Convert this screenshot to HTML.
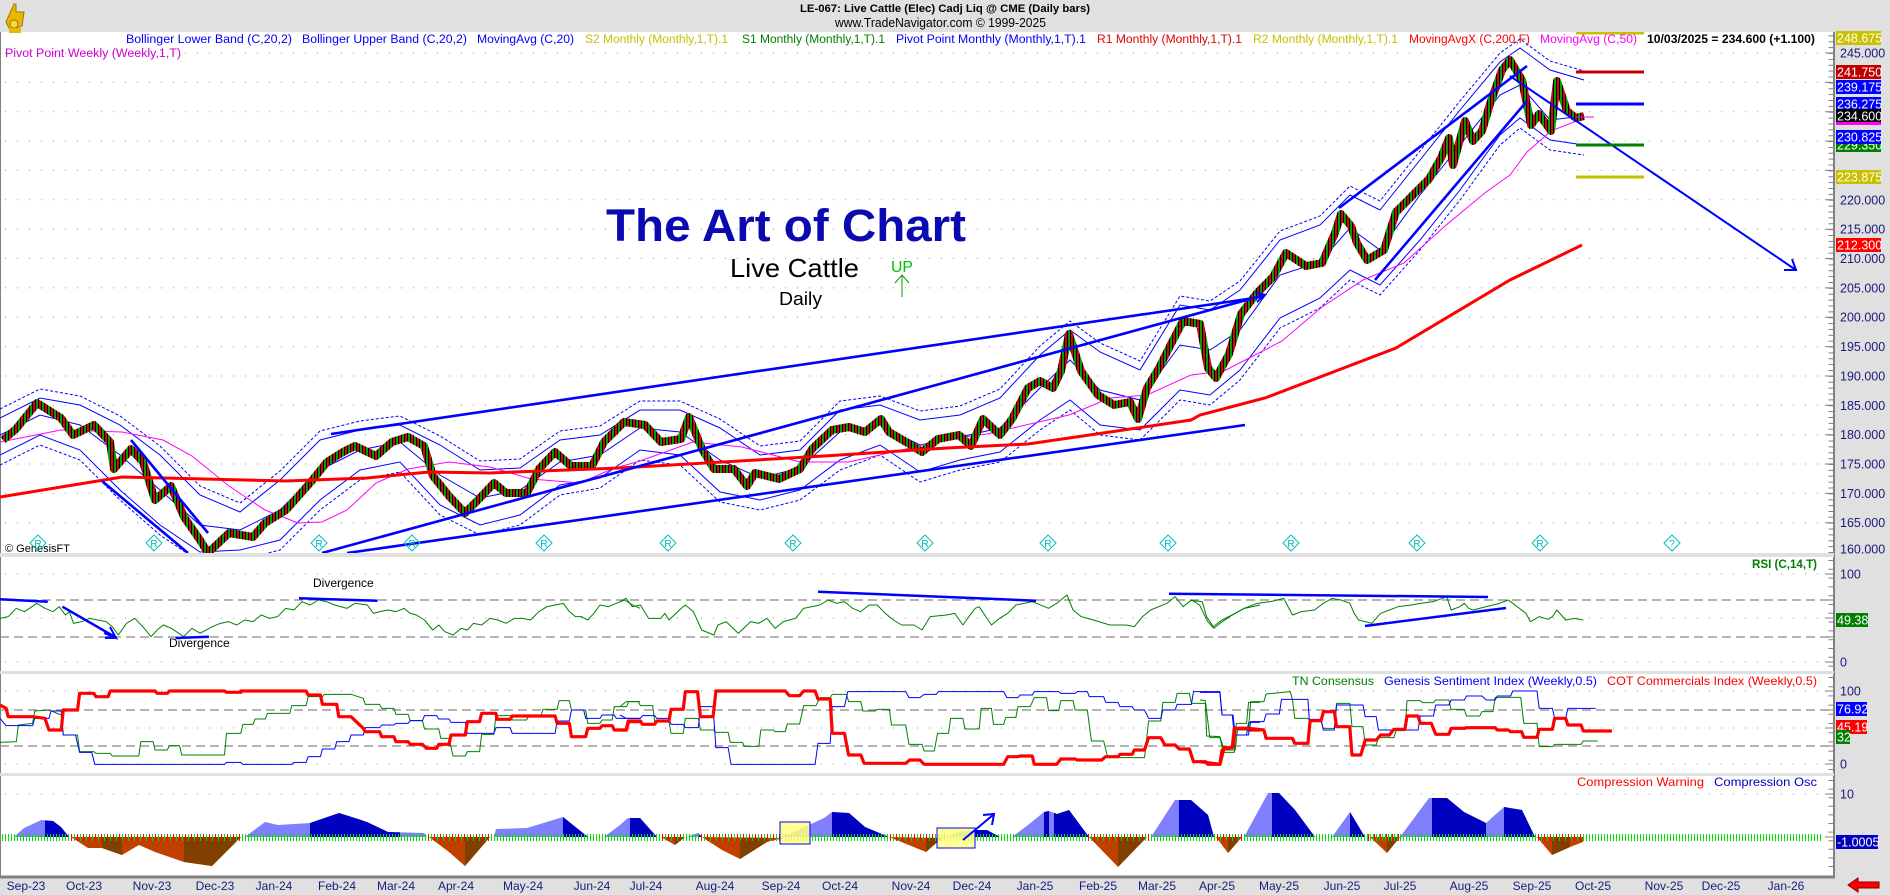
<!DOCTYPE html>
<html><head><meta charset="utf-8">
<style>
html,body{margin:0;padding:0;background:#e0e0e0;}
svg{display:block;font-family:"Liberation Sans",Arial,sans-serif;}
.ns{vector-effect:non-scaling-stroke;fill:none;stroke-linejoin:round;}
</style></head>
<body>
<svg width="1890" height="895" viewBox="0 0 1890 895" xmlns="http://www.w3.org/2000/svg">
<defs>
<pattern id="cdl" x="0" y="0" width="6" height="20" patternUnits="userSpaceOnUse">
<rect x="0" y="0" width="2" height="20" fill="#00a000"/>
<rect x="2" y="0" width="1" height="20" fill="#000"/>
<rect x="3" y="0" width="2" height="20" fill="#e00000"/>
<rect x="5" y="0" width="1" height="20" fill="#000"/>
</pattern>
<clipPath id="mainclip"><rect x="0" y="32" width="1834" height="521"/></clipPath>
<clipPath id="darkPos">
<rect x="45" y="780" width="24" height="100"/><rect x="310" y="780" width="90" height="100"/><rect x="563" y="780" width="25" height="100"/><rect x="630" y="780" width="27" height="100"/><rect x="698" y="780" width="4" height="100"/><rect x="832" y="780" width="57" height="100"/><rect x="975" y="780" width="25" height="100"/><rect x="1044" y="780" width="5" height="100"/><rect x="1054" y="780" width="35" height="100"/><rect x="1179" y="780" width="35" height="100"/><rect x="1272" y="780" width="43" height="100"/><rect x="1350" y="780" width="15" height="100"/><rect x="1432" y="780" width="54" height="100"/><rect x="1504" y="780" width="31" height="100"/>
</clipPath>
<clipPath id="darkNeg">
<rect x="102" y="780" width="20" height="100"/><rect x="184" y="780" width="57" height="100"/><rect x="465" y="780" width="25" height="100"/><rect x="675" y="780" width="10" height="100"/><rect x="740" y="780" width="27" height="100"/><rect x="926" y="780" width="16" height="100"/><rect x="1118" y="780" width="29" height="100"/><rect x="1228" y="780" width="14" height="100"/><rect x="1387" y="780" width="13" height="100"/><rect x="1552" y="780" width="18" height="100"/>
</clipPath>
</defs>
<rect x="0" y="0" width="1890" height="895" fill="#e0e0e0"/>
<rect x="0" y="32" width="1834" height="521" fill="#fff"/>
<rect x="0" y="557" width="1834" height="115" fill="#fff"/>
<rect x="0" y="674" width="1834" height="99" fill="#fff"/>
<rect x="0" y="776" width="1834" height="100" fill="#fff"/>
<line x1="0.5" y1="32" x2="0.5" y2="876" stroke="#808080" stroke-width="1"/>

<!-- grid -->
<path d="M5 53H1834M5 82.4H1834M5 111.7H1834M5 141.1H1834M5 170.4H1834M5 199.8H1834M5 229.2H1834M5 258.5H1834M5 287.9H1834M5 317.2H1834M5 346.6H1834M5 376H1834M5 405.3H1834M5 434.7H1834M5 464H1834M5 493.4H1834M5 522.8H1834M5 574H1834M5 618H1834M5 662H1834M5 691H1834M5 728H1834M5 764H1834M5 794H1834" stroke="#909090" stroke-width="1" stroke-dasharray="1,11" fill="none"/>
<path d="M0 600H1834M0 637H1834M0 710H1834M0 746H1834" stroke="#888" stroke-width="1.3" stroke-dasharray="9,5" fill="none"/>

<!-- main panel -->
<g clip-path="url(#mainclip)">
<g transform="translate(0,-9)"><polyline fill="none" stroke="#0000ff" stroke-width="1" stroke-dasharray="3,2" points="0,418 40,398 80,405 120,425 160,455 200,495 240,512 280,480 320,440 360,430 400,425 440,445 480,470 520,468 560,440 600,435 640,410 680,410 720,428 760,455 800,450 840,410 880,405 920,420 960,415 1000,398 1040,355 1070,330 1100,352 1140,370 1180,305 1210,310 1240,290 1280,240 1320,225 1350,195 1380,210 1420,160 1460,110 1500,62 1520,48 1550,70 1584,80"/></g>
<g transform="translate(0,10)"><polyline fill="none" stroke="#0000ff" stroke-width="1" stroke-dasharray="3,2" points="0,455 40,435 80,450 120,490 160,525 200,552 240,550 280,540 320,500 360,470 400,462 440,505 480,525 520,515 560,485 600,478 640,450 680,455 720,492 760,500 800,490 840,460 880,445 920,472 960,460 1000,452 1040,420 1070,400 1100,425 1140,430 1180,390 1210,395 1240,370 1280,318 1320,298 1350,270 1380,285 1420,240 1460,190 1500,135 1520,118 1550,140 1584,145"/></g>
<polyline fill="none" stroke="#0000ff" stroke-width="1" points="0,418 40,398 80,405 120,425 160,455 200,495 240,512 280,480 320,440 360,430 400,425 440,445 480,470 520,468 560,440 600,435 640,410 680,410 720,428 760,455 800,450 840,410 880,405 920,420 960,415 1000,398 1040,355 1070,330 1100,352 1140,370 1180,305 1210,310 1240,290 1280,240 1320,225 1350,195 1380,210 1420,160 1460,110 1500,62 1520,48 1550,70 1584,80"/>
<polyline fill="none" stroke="#0000ff" stroke-width="1" points="0,455 40,435 80,450 120,490 160,525 200,552 240,550 280,540 320,500 360,470 400,462 440,505 480,525 520,515 560,485 600,478 640,450 680,455 720,492 760,500 800,490 840,460 880,445 920,472 960,460 1000,452 1040,420 1070,400 1100,425 1140,430 1180,390 1210,395 1240,370 1280,318 1320,298 1350,270 1380,285 1420,240 1460,190 1500,135 1520,118 1550,140 1584,145"/>
<polyline fill="none" stroke="#0000ff" stroke-width="1" points="0,435 40,415 80,425 120,455 160,490 200,525 240,530 280,510 320,470 360,450 400,442 440,475 480,498 520,490 560,462 600,455 640,428 680,432 720,460 760,478 800,468 840,432 880,425 920,445 960,437 1000,428 1040,388 1070,360 1100,390 1140,400 1180,345 1210,350 1240,330 1280,275 1320,262 1350,228 1380,250 1420,195 1460,145 1500,95 1520,85 1550,120 1584,116"/>
<polyline fill="none" stroke="#ff00ff" stroke-width="1" points="0,442 61,430 122,432 163,440 192,456 229,486 265,510 298,523 322,522 347,510 376,483 408,469 449,462 490,467 531,479 580,483 612,469 640,461 693,442 742,447 800,462 849,462 906,449 947,439 987,434 1069,415 1110,398 1147,395 1191,375 1224,371 1282,341 1322,307 1363,280 1404,263 1445,226 1486,192 1510,175 1527,152 1551,131 1584,118"/>
<polyline fill="none" stroke="url(#cdl)" stroke-width="8" stroke-linejoin="round" points="3,440 16,429 37,403 61,418 73,435 94,425 110,442 114,469 131,449 143,462 155,500 171,486 184,517 200,540 208,553 229,533 253,537 265,523 286,510 310,483 327,462 343,452 355,446 376,456 392,442 408,437 424,446 433,476 449,496 465,513 478,500 494,483 506,493 527,493 539,469 555,452 571,466 592,466 604,442 624,422 645,425 661,442 681,439 689,417 702,449 714,469 734,469 747,486 755,473 779,479 800,469 812,449 832,430 849,427 865,432 881,419 889,432 906,442 922,452 938,439 959,435 971,446 983,419 1000,435 1012,419 1028,388 1040,381 1053,388 1061,371 1069,334 1081,371 1098,395 1114,405 1130,402 1138,419 1147,388 1159,368 1171,344 1183,321 1200,324 1208,368 1216,378 1229,354 1241,314 1257,293 1273,277 1286,253 1306,266 1322,263 1335,233 1341,214 1351,226 1357,243 1367,260 1384,250 1396,212 1412,196 1429,179 1441,158 1449,138 1453,165 1465,121 1473,141 1482,131 1490,104 1502,70 1510,60 1522,80 1531,125 1539,114 1551,131 1557,81 1567,111 1576,118 1584,116"/>
<polyline fill="none" stroke="#ff0000" stroke-width="3" points="0,497 122,477 204,479 286,481 367,478 429,472 490,473 620,468 824,456 947,448 1028,444 1110,432 1191,420 1200,415 1265,398 1396,348 1510,280 1582,245"/>
<line x1="1576" y1="117" x2="1594" y2="117" stroke="#ff00ff" stroke-width="1"/>
<g stroke="#0000ff" stroke-width="2.6">
<line x1="102" y1="481" x2="188" y2="553"/>
<line x1="131" y1="440" x2="208" y2="533"/>
<line x1="331" y1="434" x2="1261" y2="297"/>
<line x1="322" y1="553" x2="1265" y2="295"/>
<line x1="347" y1="553" x2="1245" y2="425"/>
<line x1="1339" y1="208" x2="1527" y2="66"/>
<line x1="1375" y1="280" x2="1527" y2="101"/>
</g>
<path d="M1255 292 L1265 295 L1257 302" stroke="#0000ff" stroke-width="2" fill="none"/>
<line x1="1510" y1="76" x2="1796" y2="270" stroke="#0000ff" stroke-width="2"/>
<path d="M1784 270 L1796 270 L1792 259" stroke="#0000ff" stroke-width="2" fill="none"/>
<line x1="1576" y1="72" x2="1644" y2="72" stroke="#c00000" stroke-width="3"/>
<line x1="1576" y1="104" x2="1644" y2="104" stroke="#0000ff" stroke-width="3"/>
<line x1="1576" y1="145" x2="1644" y2="145" stroke="#008000" stroke-width="3"/>
<line x1="1576" y1="177" x2="1644" y2="177" stroke="#c0c000" stroke-width="3"/>
<line x1="1576" y1="33" x2="1644" y2="33" stroke="#c8c000" stroke-width="3"/>
</g>

<!-- RSI -->
<g transform="translate(0,555) scale(0.40816,0.33333)"><polyline class="ns" stroke="#008000" stroke-width="1" points="0,190 20,185 40,160 60,170 90,145 110,160 130,170 145,155 160,180 170,170 180,205 200,200 220,190 240,195 260,200 275,215 290,240 310,205 330,190 350,215 370,245 385,225 400,210 420,220 450,245 470,220 490,235 520,215 540,205 560,200 580,210 600,195 620,200 640,180 660,190 680,185 700,160 720,165 740,140 760,150 780,135 800,140 820,150 850,160 870,145 900,150 915,175 930,170 950,165 970,170 990,160 1005,175 1020,180 1040,195 1060,225 1075,210 1090,230 1110,240 1130,220 1145,225 1160,205 1180,210 1200,190 1220,195 1240,205 1260,190 1280,190 1300,195 1320,170 1340,155 1360,150 1380,145 1395,170 1410,185 1425,185 1440,195 1455,175 1470,150 1490,155 1510,145 1530,135 1550,150 1568,160"/></g>
<g transform="translate(620,555) scale(0.40816,0.33333)"><polyline class="ns" stroke="#008000" stroke-width="1" points="0,140 15,130 30,155 50,150 70,190 100,190 110,175 120,195 150,160 160,150 180,170 200,225 230,240 240,210 260,200 290,235 320,200 340,205 360,190 380,220 400,200 430,190 450,160 490,150 510,135 530,145 550,140 570,160 590,170 610,150 630,150 650,175 670,195 690,210 720,210 740,225 760,185 800,180 820,175 840,210 870,160 880,155 910,210 930,190 950,175 970,150 990,145 1010,140 1050,160 1070,145 1095,120 1110,165 1130,185 1160,195 1200,210 1240,210 1260,215 1280,185 1300,165 1340,145 1360,125 1380,155 1400,135 1420,150 1440,200 1455,220 1470,205 1500,180 1530,160 1568,150"/></g>
<g transform="translate(1200,460) scale(0.44053,0.33333)"><polyline class="ns" stroke="#008000" stroke-width="1" points="-20,422 5,425 15,470 30,500 50,480 80,460 100,445 130,430 160,425 190,415 210,465 230,455 260,450 280,430 300,415 320,420 340,430 350,460 360,480 375,485 390,490 410,460 430,450 450,440 480,435 500,430 530,425 560,410 570,450 590,440 600,430 610,445 620,450 650,440 680,430 700,420 720,440 740,460 750,485 770,470 790,478 800,470 810,450 820,465 830,480 850,475 870,480"/></g>
<g stroke="#0000ff" stroke-width="2.5">
<line x1="0" y1="599.3" x2="47.8" y2="601.7"/>
<line x1="62.4" y1="606.7" x2="116.3" y2="637.7"/>
<line x1="105" y1="637.7" x2="116.3" y2="637.7"/>
<line x1="175.5" y1="638" x2="209" y2="636.7"/>
<line x1="299" y1="598.3" x2="377.5" y2="600.7"/>
<line x1="818" y1="591.7" x2="1036" y2="600.7"/>
<line x1="1169" y1="593.7" x2="1488" y2="597"/>
<line x1="1365" y1="626" x2="1506" y2="608"/>
</g>
<path d="M104 633 L116 638 L110 627" stroke="#0000ff" stroke-width="2" fill="none"/>
<text x="313" y="587" font-size="12" fill="#000">Divergence</text>
<text x="169" y="647" font-size="12" fill="#000">Divergence</text>

<!-- Sentiment -->
<g transform="translate(0,555) scale(0.40816,0.33333)">
<polyline class="ns" stroke="#008000" stroke-width="1" points="0,562 40,560 45,510 80,505 85,468 120,465 150,480 155,540 190,540 195,590 230,590 235,595 270,595 275,603 340,603 345,560 375,560 380,585 410,585 415,572 440,572 445,600 550,600 555,535 590,535 595,508 620,508 625,492 650,492 655,475 710,475 715,452 750,452 755,425 790,425 795,418 860,418 890,430 895,448 930,448 935,460 965,460 970,478 1000,478 1005,497 1035,497 1040,522 1075,522 1080,550 1100,550 1110,603 1140,603 1145,590 1175,590 1180,538 1210,538 1215,482 1250,482 1255,495 1290,495 1295,485 1325,485 1330,463 1365,463 1370,437 1395,437 1400,465 1435,465 1440,505 1470,505 1475,495 1500,495 1505,455 1535,455 1540,440 1568,440"/>
<polyline class="ns" stroke="#0000ff" stroke-width="1" points="0,490 15,512 80,512 85,490 120,490 125,468 150,468 155,540 185,540 195,592 225,592 232,628 550,628 555,622 590,622 595,628 715,628 720,622 750,622 755,605 785,605 790,582 820,582 825,560 855,560 860,540 890,540 895,518 930,518 935,510 965,510 970,505 1000,505 1005,497 1035,497 1040,482 1070,482 1075,492 1100,492 1105,502 1140,502 1145,535 1210,535 1215,518 1250,518 1255,535 1360,535 1365,498 1395,498 1400,465 1430,465 1435,490 1470,490 1475,480 1505,480 1510,490 1568,490"/>
<polyline class="ns" stroke="#ff0000" stroke-width="3.2" points="0,450 15,460 20,485 80,485 110,490 120,525 150,525 155,465 190,465 195,415 230,415 235,425 265,425 270,408 380,408 385,415 410,415 415,408 550,408 555,412 590,412 590,408 750,408 755,420 785,420 790,448 825,448 830,485 860,485 890,520 895,530 930,530 935,545 965,545 970,560 1000,560 1005,568 1035,568 1045,580 1070,580 1075,568 1100,568 1105,540 1140,540 1145,500 1175,500 1180,475 1215,475 1218,493 1250,493 1255,483 1360,483 1365,505 1395,505 1400,545 1435,545 1440,520 1470,520 1475,512 1500,512 1505,525 1535,525 1540,500 1568,500"/>
</g>
<g transform="translate(620,555) scale(0.40816,0.33333)">
<polyline class="ns" stroke="#008000" stroke-width="1" points="0,455 15,440 45,440 50,452 80,452 85,500 120,500 125,535 155,535 160,490 192,490 197,525 230,525 235,532 265,532 270,562 300,562 305,574 340,574 345,525 375,525 380,530 405,530 410,507 440,507 450,452 480,452 490,428 515,428 520,418 555,418 560,440 590,440 595,468 625,468 630,463 660,463 665,510 700,510 708,568 740,568 745,588 770,588 778,535 805,535 810,490 840,490 845,522 880,522 885,460 910,460 915,508 940,508 945,487 970,487 975,455 1005,455 1015,428 1045,428 1050,467 1075,467 1080,437 1110,437 1115,465 1145,465 1155,558 1185,558 1195,608 1285,608 1290,555 1295,498 1325,498 1330,442 1360,442 1365,415 1395,415 1400,445 1435,445 1445,548 1470,548 1478,592 1505,592 1510,505 1535,505 1540,442 1568,442"/>
<polyline class="ns" stroke="#0000ff" stroke-width="1" points="0,480 15,490 50,490 55,482 85,482 90,490 120,490 125,508 155,508 160,518 192,518 197,455 228,455 235,578 265,578 272,628 478,628 485,565 515,565 520,455 550,455 558,410 700,410 708,428 735,428 745,418 775,418 780,410 940,410 948,428 975,428 980,420 1010,420 1015,410 1075,410 1080,415 1115,415 1120,410 1145,410 1150,425 1185,425 1190,442 1220,442 1225,455 1255,455 1260,465 1285,465 1295,490 1325,490 1330,465 1360,465 1365,448 1400,448 1405,410 1470,410 1475,480 1500,480 1505,540 1535,540 1540,502 1568,502"/>
<polyline class="ns" stroke="#ff0000" stroke-width="3.2" points="0,525 15,525 20,498 50,498 55,508 85,508 90,498 120,498 125,463 155,463 160,410 190,410 197,485 228,485 235,408 405,408 415,422 440,422 450,408 478,408 485,432 515,432 520,535 550,535 560,600 590,600 598,625 700,625 710,615 735,615 745,628 940,628 950,605 975,605 980,603 1010,603 1015,628 1070,628 1080,612 1115,612 1120,615 1180,615 1190,605 1220,605 1225,598 1255,598 1260,585 1285,585 1295,548 1325,548 1335,570 1360,570 1370,582 1395,582 1405,620 1435,620 1440,628 1470,628 1480,578 1500,578 1505,520 1535,520 1540,525 1568,525"/>
</g>
<g transform="translate(1200,460) scale(0.44053,0.33333)">
<polyline class="ns" stroke="#008000" stroke-width="1" points="0,720 12,722 15,828 45,830 55,870 80,870 85,810 110,810 115,725 145,725 150,702 205,695 210,720 215,775 245,775 250,785 275,785 280,805 305,805 310,730 340,730 345,800 370,800 375,855 400,855 405,833 440,833 445,812 465,812 470,722 500,722 505,728 530,728 535,720 565,720 570,748 600,748 605,768 635,768 640,755 665,755 670,712 728,712 735,790 765,790 770,860 800,860 805,853 865,853 870,843 903,843"/>
<polyline class="ns" stroke="#0000ff" stroke-width="1" points="0,697 45,697 50,765 75,765 80,825 110,825 115,785 145,785 150,762 180,762 185,718 245,718 248,778 275,778 280,810 305,810 310,735 370,735 375,770 400,770 405,810 495,810 500,768 530,768 535,735 565,735 570,720 600,720 605,708 640,708 650,720 670,720 675,708 705,708 710,693 765,693 770,745 800,745 805,775 830,775 835,745 898,745"/>
<polyline class="ns" stroke="#ff0000" stroke-width="3.2" points="0,905 45,913 50,870 75,860 80,805 110,805 145,810 150,835 210,835 215,850 245,850 250,782 275,782 280,755 305,755 310,800 340,800 345,885 365,885 375,840 400,840 410,825 430,825 440,808 465,808 470,768 495,768 500,790 525,790 535,823 565,823 570,805 600,805 605,803 670,803 675,810 700,810 705,815 730,815 735,832 765,832 770,808 800,808 805,775 830,775 835,795 865,795 870,813 935,813"/>
</g>

<!-- Compression -->
<g fill="#8080ff">
<polygon points="14,837 24,828 37,822 41,820 53,821 61,827 69,837"/>
<polygon points="245,837 265,822 278,825 310,823 339,813 355,818 367,822 388,832 424,833 427,837"/>
<polygon points="494,837 496,829 527,828 563,817 588,837"/>
<polygon points="604,837 620,825 628,818 640,818 657,837"/>
<polygon points="687,837 698,833 702,837"/>
<polygon points="783,837 824,818 832,812 849,813 865,827 889,837"/>
<polygon points="947,837 959,832 975,830 987,830 1000,837"/>
<polygon points="1012,837 1028,825 1044,812 1049,811 1057,814 1069,810 1089,837"/>
<polygon points="1151,837 1175,800 1191,800 1208,815 1214,837"/>
<polygon points="1244,837 1268,793 1279,793 1295,810 1315,837"/>
<polygon points="1332,837 1350,812 1365,837"/>
<polygon points="1400,837 1429,798 1447,798 1464,812 1486,823 1504,807 1522,810 1535,837"/>
</g>
<g fill="#0000c0" clip-path="url(#darkPos)">
<polygon points="14,837 24,828 37,822 41,820 53,821 61,827 69,837"/>
<polygon points="245,837 265,822 278,825 310,823 339,813 355,818 367,822 388,832 424,833 427,837"/>
<polygon points="494,837 496,829 527,828 563,817 588,837"/>
<polygon points="604,837 620,825 628,818 640,818 657,837"/>
<polygon points="687,837 698,833 702,837"/>
<polygon points="783,837 824,818 832,812 849,813 865,827 889,837"/>
<polygon points="947,837 959,832 975,830 987,830 1000,837"/>
<polygon points="1012,837 1028,825 1044,812 1049,811 1057,814 1069,810 1089,837"/>
<polygon points="1151,837 1175,800 1191,800 1208,815 1214,837"/>
<polygon points="1244,837 1268,793 1279,793 1295,810 1315,837"/>
<polygon points="1332,837 1350,812 1365,837"/>
<polygon points="1400,837 1429,798 1447,798 1464,812 1486,823 1504,807 1522,810 1535,837"/>
</g>
<g fill="#c04000">
<polygon points="71,837 88,848 102,848 122,855 139,845 155,852 184,862 212,866 241,837"/>
<polygon points="429,837 449,852 465,866 490,837"/>
<polygon points="661,837 675,845 685,837"/>
<polygon points="702,837 722,850 740,859 767,842 783,838"/>
<polygon points="889,837 926,852 942,838"/>
<polygon points="1089,837 1118,867 1147,837"/>
<polygon points="1216,837 1228,853 1242,837"/>
<polygon points="1370,837 1387,853 1400,837"/>
<polygon points="1537,837 1552,855 1570,847 1583,842 1584,837"/>
</g>
<g fill="#804000" clip-path="url(#darkNeg)">
<polygon points="71,837 88,848 102,848 122,855 139,845 155,852 184,862 212,866 241,837"/>
<polygon points="429,837 449,852 465,866 490,837"/>
<polygon points="661,837 675,845 685,837"/>
<polygon points="702,837 722,850 740,859 767,842 783,838"/>
<polygon points="889,837 926,852 942,838"/>
<polygon points="1089,837 1118,867 1147,837"/>
<polygon points="1216,837 1228,853 1242,837"/>
<polygon points="1370,837 1387,853 1400,837"/>
<polygon points="1537,837 1552,855 1570,847 1583,842 1584,837"/>
</g>
<line x1="2" y1="837.5" x2="1822" y2="837.5" stroke="#00e000" stroke-width="7" stroke-dasharray="1,2"/>
<g stroke="#ff0000" stroke-width="7" stroke-dasharray="1,5">
<line x1="71" y1="837.5" x2="241" y2="837.5"/>
<line x1="428" y1="837.5" x2="490" y2="837.5"/>
<line x1="662" y1="837.5" x2="686" y2="837.5"/>
<line x1="701" y1="837.5" x2="800" y2="837.5"/>
<line x1="890" y1="837.5" x2="945" y2="837.5"/>
<line x1="1088" y1="837.5" x2="1150" y2="837.5"/>
<line x1="1217" y1="837.5" x2="1244" y2="837.5"/>
<line x1="1368" y1="837.5" x2="1400" y2="837.5"/>
<line x1="1538" y1="837.5" x2="1584" y2="837.5"/>
</g>
<rect x="780" y="822" width="30" height="22" fill="#ffff80" fill-opacity="0.85" stroke="#0000ff" stroke-width="1"/>
<rect x="937" y="828" width="38" height="20" fill="#ffff80" fill-opacity="0.85" stroke="#0000ff" stroke-width="1"/>
<line x1="963" y1="840" x2="993" y2="815" stroke="#0000ff" stroke-width="2"/>
<path d="M983 815 L994 814 L992 825" stroke="#0000ff" stroke-width="2" fill="none"/>

<!-- axis -->
<line x1="1834" y1="32" x2="1834" y2="877" stroke="#808080" stroke-width="2"/>
<line x1="0" y1="877" x2="1835" y2="877" stroke="#808080" stroke-width="3"/>
<line x1="1831" y1="35.39" x2="1831" y2="553" stroke="#808080" stroke-width="5" stroke-dasharray="1,4.871"/>
<path d="M1825 53H1834M1825 82.4H1834M1825 111.7H1834M1825 141.1H1834M1825 170.4H1834M1825 199.8H1834M1825 229.2H1834M1825 258.5H1834M1825 287.9H1834M1825 317.2H1834M1825 346.6H1834M1825 376H1834M1825 405.3H1834M1825 434.7H1834M1825 464H1834M1825 493.4H1834M1825 522.8H1834M1825 574H1834M1825 600H1834M1825 618H1834M1825 637H1834M1825 662H1834M1825 691H1834M1825 710H1834M1825 728H1834M1825 746H1834M1825 764H1834M1825 794H1834M1825 837H1834" stroke="#808080" stroke-width="1"/>
<line x1="1831" y1="560" x2="1831" y2="670" stroke="#808080" stroke-width="5" stroke-dasharray="1,7.8"/>
<line x1="1831" y1="677" x2="1831" y2="771" stroke="#808080" stroke-width="5" stroke-dasharray="1,8.2"/>
<line x1="1831" y1="780" x2="1831" y2="874" stroke="#808080" stroke-width="5" stroke-dasharray="1,7.6"/>
<rect x="0" y="553" width="1834" height="4" fill="#e0e0e0"/>
<rect x="0" y="671" width="1834" height="3" fill="#e0e0e0"/>
<rect x="0" y="773" width="1834" height="3" fill="#e0e0e0"/>

<!-- header -->
<text x="800" y="12" font-size="11" font-weight="bold" fill="#000" textLength="290" lengthAdjust="spacingAndGlyphs">LE-067:  Live Cattle (Elec) Cadj Liq @ CME  (Daily bars)</text>
<text x="835" y="27" font-size="12.5" fill="#000" textLength="211" lengthAdjust="spacingAndGlyphs">www.TradeNavigator.com © 1999-2025</text>
<g font-size="11.5">
<text x="126" y="43" fill="#0000ff" textLength="166" lengthAdjust="spacingAndGlyphs">Bollinger Lower Band (C,20,2)</text>
<text x="302" y="43" fill="#0000ff" textLength="165" lengthAdjust="spacingAndGlyphs">Bollinger Upper Band (C,20,2)</text>
<text x="477" y="43" fill="#0000ff" textLength="97" lengthAdjust="spacingAndGlyphs">MovingAvg (C,20)</text>
<text x="585" y="43" fill="#c8c000" textLength="143" lengthAdjust="spacingAndGlyphs">S2 Monthly (Monthly,1,T).1</text>
<text x="742" y="43" fill="#008000" textLength="143" lengthAdjust="spacingAndGlyphs">S1 Monthly (Monthly,1,T).1</text>
<text x="896" y="43" fill="#0000ff" textLength="190" lengthAdjust="spacingAndGlyphs">Pivot Point Monthly (Monthly,1,T).1</text>
<text x="1097" y="43" fill="#e00000" textLength="145" lengthAdjust="spacingAndGlyphs">R1 Monthly (Monthly,1,T).1</text>
<text x="1253" y="43" fill="#c8c000" textLength="145" lengthAdjust="spacingAndGlyphs">R2 Monthly (Monthly,1,T).1</text>
<text x="1409" y="43" fill="#ff0000" textLength="121" lengthAdjust="spacingAndGlyphs">MovingAvgX (C,200,F)</text>
<text x="1540" y="43" fill="#ff00ff" textLength="97" lengthAdjust="spacingAndGlyphs">MovingAvg (C,50)</text>
<text x="1647" y="43" fill="#000" font-weight="bold" textLength="168" lengthAdjust="spacingAndGlyphs">10/03/2025 = 234.600 (+1.100)</text>
<text x="5" y="57" fill="#d000d0" textLength="176" lengthAdjust="spacingAndGlyphs">Pivot Point Weekly (Weekly,1,T)</text>
</g>
<g>
<path d="M14 4 L16 4 L16 12 L24 12 L22 26 L10 30 L6 22 Z" fill="#e8b800" stroke="#a07800" stroke-width="1"/>
<circle cx="14" cy="24" r="4" fill="#f8d848" stroke="#a07800"/>
<rect x="9" y="28" width="12" height="5" fill="#e8b800"/>
</g>

<text x="606" y="241" font-size="45" font-weight="bold" fill="#0a0ab0" textLength="360" lengthAdjust="spacingAndGlyphs">The Art of Chart</text>
<text x="730" y="277" font-size="26" fill="#000" textLength="129" lengthAdjust="spacingAndGlyphs">Live Cattle</text>
<text x="779" y="305" font-size="18" fill="#000" textLength="43" lengthAdjust="spacingAndGlyphs">Daily</text>
<text x="891" y="272" font-size="16" fill="#00c000" textLength="22" lengthAdjust="spacingAndGlyphs">UP</text>
<path d="M902 297 L902 275 M895 283 L902 275 L909 283" stroke="#00a000" fill="none" stroke-width="1"/>
<text x="5" y="552" font-size="11" fill="#000">© GenesisFT</text>

<g fill="none" stroke="#00c0c0" stroke-width="1">
<path d="M38 535l8 8-8 8-8-8zM154 535l8 8-8 8-8-8zM319 535l8 8-8 8-8-8zM412 535l8 8-8 8-8-8zM544 535l8 8-8 8-8-8zM668 535l8 8-8 8-8-8zM793 535l8 8-8 8-8-8zM925 535l8 8-8 8-8-8zM1048 535l8 8-8 8-8-8zM1168 535l8 8-8 8-8-8zM1291 535l8 8-8 8-8-8zM1417 535l8 8-8 8-8-8zM1540 535l8 8-8 8-8-8zM1672 535l8 8-8 8-8-8z"/>
</g>
<g font-size="10" fill="#00b0b0" text-anchor="middle">
<text x="38" y="547">R</text><text x="154" y="547">R</text><text x="319" y="547">R</text><text x="412" y="547">R</text><text x="544" y="547">R</text><text x="668" y="547">R</text><text x="793" y="547">R</text><text x="925" y="547">R</text><text x="1048" y="547">R</text><text x="1168" y="547">R</text><text x="1291" y="547">R</text><text x="1417" y="547">R</text><text x="1540" y="547">R</text><text x="1672" y="547">?</text>
</g>

<text x="1752" y="568" font-size="12" fill="#008000" font-weight="bold" textLength="65" lengthAdjust="spacingAndGlyphs">RSI (C,14,T)</text>
<g font-size="12">
<text x="1292" y="685" fill="#008000" textLength="82" lengthAdjust="spacingAndGlyphs">TN Consensus</text>
<text x="1384" y="685" fill="#0000ff" textLength="213" lengthAdjust="spacingAndGlyphs">Genesis Sentiment Index (Weekly,0.5)</text>
<text x="1607" y="685" fill="#ff0000" textLength="210" lengthAdjust="spacingAndGlyphs">COT Commercials Index (Weekly,0.5)</text>
<text x="1577" y="786" fill="#ff0000" textLength="127" lengthAdjust="spacingAndGlyphs">Compression Warning</text>
<text x="1714" y="786" fill="#0000c0" textLength="103" lengthAdjust="spacingAndGlyphs">Compression Osc</text>
</g>

<g font-size="12.5" fill="#1a1a7a">
<text x="1840" y="57.5">245.000</text><text x="1840" y="204.3">220.000</text><text x="1840" y="233.6">215.000</text>
<text x="1840" y="263">210.000</text><text x="1840" y="292.3">205.000</text><text x="1840" y="321.7">200.000</text>
<text x="1840" y="351">195.000</text><text x="1840" y="380.4">190.000</text><text x="1840" y="409.8">185.000</text>
<text x="1840" y="439.1">180.000</text><text x="1840" y="468.5">175.000</text><text x="1840" y="497.8">170.000</text>
<text x="1840" y="527.2">165.000</text><text x="1840" y="553.5">160.000</text>
<text x="1840" y="578.5">100</text><text x="1840" y="666.5">0</text>
<text x="1840" y="695.5">100</text><text x="1840" y="768.5">0</text>
<text x="1840" y="798.5">10</text>
</g>
<g font-size="12.5" fill="#fff">
<rect x="1836" y="31" width="45" height="14" fill="#c8c000"/><text x="1837" y="42.5">248.675</text>
<rect x="1836" y="65" width="45" height="14" fill="#c00000"/><text x="1837" y="76.5">241.750</text>
<rect x="1836" y="80" width="45" height="14" fill="#0000ff"/><text x="1837" y="91.5">239.175</text>
<rect x="1836" y="97" width="45" height="14" fill="#0000ff"/><text x="1837" y="108.5">236.275</text>
<rect x="1836" y="109" width="45" height="14" fill="#000"/><text x="1837" y="120.5">234.600</text>
<rect x="1836" y="122" width="45" height="3" fill="#ff00ff"/>
<rect x="1836" y="138" width="45" height="14" fill="#008000"/><text x="1837" y="149.5">229.350</text>
<rect x="1836" y="130" width="45" height="14" fill="#0000ff"/><text x="1837" y="141.5">230.825</text>
<rect x="1836" y="170" width="45" height="14" fill="#c8c000"/><text x="1837" y="181.5">223.875</text>
<rect x="1836" y="238" width="45" height="14" fill="#ff0000"/><text x="1837" y="249.5">212.300</text>
<rect x="1836" y="613" width="32" height="14" fill="#008000"/><text x="1837" y="624.5">49.38</text>
<rect x="1836" y="702" width="31" height="14" fill="#0000ff"/><text x="1837" y="713.5">76.92</text>
<rect x="1836" y="720" width="31" height="14" fill="#ff0000"/><text x="1837" y="731.5">45.19</text>
<rect x="1836" y="730" width="14" height="14" fill="#008000"/><text x="1837" y="741.5">32</text>
<rect x="1836" y="835" width="42" height="14" fill="#0000c0"/><text x="1837" y="846.5">-1.0005</text>
</g>

<g font-size="12" fill="#1a1a7a" text-anchor="middle">
<text x="26" y="890">Sep-23</text><text x="84" y="890">Oct-23</text><text x="152" y="890">Nov-23</text>
<text x="215" y="890">Dec-23</text><text x="274" y="890">Jan-24</text><text x="337" y="890">Feb-24</text>
<text x="396" y="890">Mar-24</text><text x="456" y="890">Apr-24</text><text x="523" y="890">May-24</text>
<text x="592" y="890">Jun-24</text><text x="646" y="890">Jul-24</text><text x="715" y="890">Aug-24</text>
<text x="781" y="890">Sep-24</text><text x="840" y="890">Oct-24</text><text x="911" y="890">Nov-24</text>
<text x="972" y="890">Dec-24</text><text x="1035" y="890">Jan-25</text><text x="1098" y="890">Feb-25</text>
<text x="1157" y="890">Mar-25</text><text x="1217" y="890">Apr-25</text><text x="1279" y="890">May-25</text>
<text x="1342" y="890">Jun-25</text><text x="1400" y="890">Jul-25</text><text x="1469" y="890">Aug-25</text>
<text x="1532" y="890">Sep-25</text><text x="1593" y="890">Oct-25</text><text x="1664" y="890">Nov-25</text>
<text x="1721" y="890">Dec-25</text><text x="1786" y="890">Jan-26</text>
</g>
<path d="M1848 885 L1858 878 L1858 882 L1879 882 L1879 888 L1858 888 L1858 892 Z" fill="#ff0000" stroke="#800000" stroke-width="1"/>
</svg>
</body></html>
